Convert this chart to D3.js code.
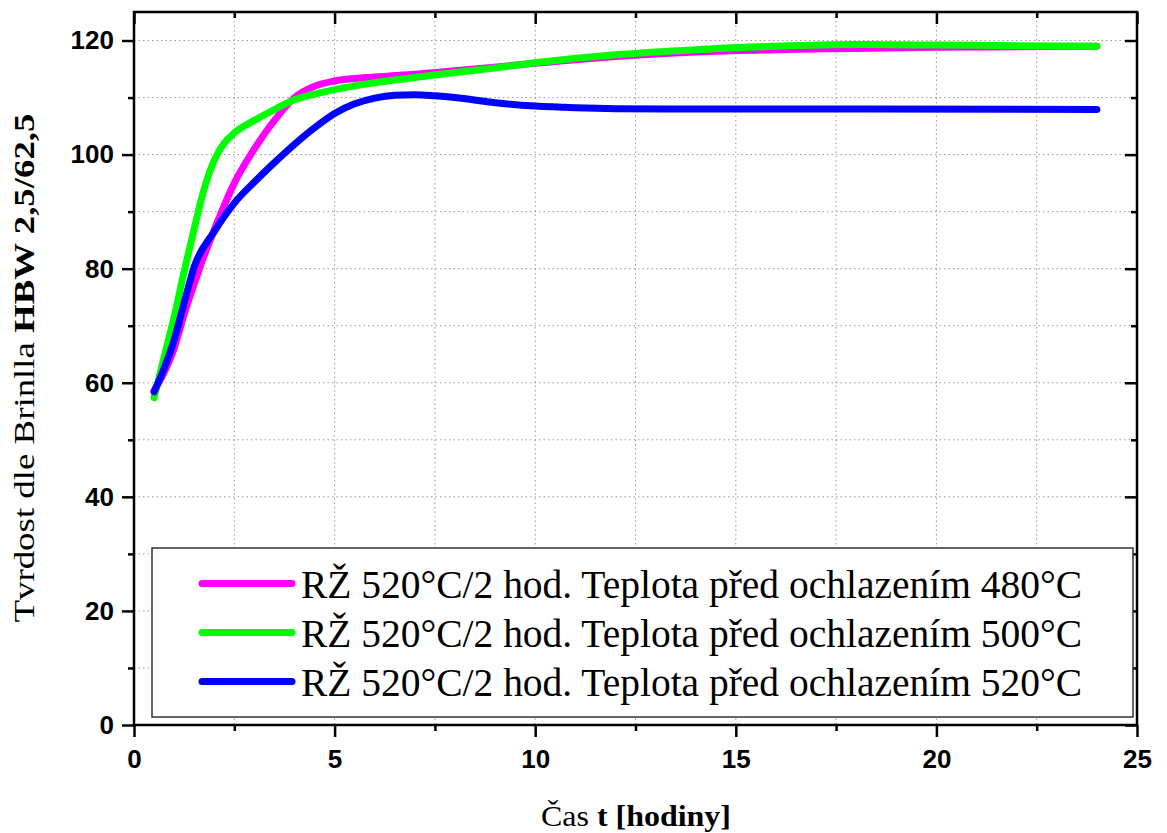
<!DOCTYPE html>
<html>
<head>
<meta charset="utf-8">
<script src="https://d3js.org/d3.v7.min.js"></script>
<style>
  body { margin: 0; background: #fff; }
  .tick text { font-family: "Liberation Sans", Arial, sans-serif; font-weight: bold; font-size: 26px; fill: #000; }
  .grid line { stroke: #9a9a9a; stroke-width: 1; stroke-dasharray: 1.5 3; }
</style>
</head>
<body>
<svg id="chart" width="1167" height="833"></svg>
<script>

// Data
const hours480 = [0.5, 0.75, 1, 1.25, 1.5, 1.75, 2, 2.5, 3, 3.5, 4, 4.5, 5, 6, 7, 8, 10, 12, 14, 16, 18, 20, 22, 24];
const hb480    = [58.6, 61.8, 66, 72, 77.3, 82.3, 86.8, 95, 101, 106, 110, 112, 112.9, 113.6, 114.1, 114.7, 116.0, 117.2, 118.0, 118.4, 118.6, 118.8, 118.9, 119.0];

const hours500 = [0.5, 0.75, 1, 1.25, 1.5, 1.75, 2, 2.25, 2.5, 3, 3.5, 4, 4.5, 5, 6, 7, 8, 9, 10, 12, 14, 16, 18, 20, 22, 24];
const hb500    = [57.4, 64.5, 71.5, 79.5, 87, 94, 99.0, 102.0, 103.8, 106.0, 107.9, 109.6, 110.6, 111.4, 112.6, 113.5, 114.4, 115.2, 116.1, 117.5, 118.4, 119.0, 119.3, 119.2, 119.1, 119.0];

const hours520 = [0.5, 0.75, 1, 1.25, 1.5, 2, 2.5, 3, 3.5, 4, 4.5, 5, 5.5, 6, 6.5, 7, 7.5, 8, 9, 10, 11, 12, 14, 18, 24];
const hb520    = [58.4, 62.5, 67.5, 74, 80.3, 86.5, 91.5, 95.2, 98.6, 101.8, 104.7, 107.2, 108.9, 109.9, 110.4, 110.5, 110.3, 110.0, 109.1, 108.5, 108.2, 108.05, 108.0, 108.0, 107.9];

const seriesNames = [
  "RŽ 520°C/2 hod. Teplota před ochlazením 480°C",
  "RŽ 520°C/2 hod. Teplota před ochlazením 500°C",
  "RŽ 520°C/2 hod. Teplota před ochlazením 520°C"
];
const seriesColors = ["#ff00ff", "#00ff00", "#0000ff"];

const xTicks = [0, 5, 10, 15, 20, 25];
const yTicks = [0, 20, 40, 60, 80, 100, 120];

// Layout
const svg = d3.select("#chart");
const pLeft = 134, pRight = 1137, pTop = 12, pBottom = 725;

const x = d3.scaleLinear().domain([0, 25]).range([pLeft, pRight]);
const y = d3.scaleLinear().domain([0, 125]).range([pBottom, pTop]);

// dotted grid at major and minor positions
const xGridVals = d3.range(2.5, 25, 2.5);
const yGridVals = d3.range(10, 125, 10);
const grid = svg.append("g").attr("class", "grid");
grid.selectAll("line.gx").data(xGridVals).join("line")
    .attr("class", "gx")
    .attr("x1", d => x(d)).attr("x2", d => x(d))
    .attr("y1", pTop).attr("y2", pBottom);
grid.selectAll("line.gy").data(yGridVals).join("line")
    .attr("class", "gy")
    .attr("x1", pLeft).attr("x2", pRight)
    .attr("y1", d => y(d)).attr("y2", d => y(d));

// minor ticks helper
function minorAxis(axisFn, scale, vals, size) {
  return axisFn(scale).tickValues(vals).tickSize(size).tickFormat("");
}

const xMinor = d3.range(2.5, 25, 5);
const yMinor = d3.range(10, 125, 20);

// bottom axis
svg.append("g").attr("class", "axis").attr("transform", `translate(0,${pBottom})`)
  .call(d3.axisBottom(x).tickValues(xTicks).tickSize(12).tickPadding(13).tickFormat(d3.format("d")));
svg.append("g").attr("class", "axis").attr("transform", `translate(0,${pBottom})`)
  .call(minorAxis(d3.axisBottom, x, xMinor, 6));

// top axis (ticks pointing down)
svg.append("g").attr("class", "axis").attr("transform", `translate(0,${pTop})`)
  .call(d3.axisBottom(x).tickValues(xTicks).tickSize(12).tickFormat(""));
svg.append("g").attr("class", "axis").attr("transform", `translate(0,${pTop})`)
  .call(minorAxis(d3.axisBottom, x, xMinor, 6));

// left axis
svg.append("g").attr("class", "axis").attr("transform", `translate(${pLeft},0)`)
  .call(d3.axisLeft(y).tickValues(yTicks).tickSize(12).tickPadding(8).tickFormat(d3.format("d")));
svg.append("g").attr("class", "axis").attr("transform", `translate(${pLeft},0)`)
  .call(minorAxis(d3.axisLeft, y, yMinor, 6));

// right axis (ticks pointing left)
svg.append("g").attr("class", "axis").attr("transform", `translate(${pRight},0)`)
  .call(d3.axisLeft(y).tickValues(yTicks).tickSize(12).tickFormat(""));
svg.append("g").attr("class", "axis").attr("transform", `translate(${pRight},0)`)
  .call(minorAxis(d3.axisLeft, y, yMinor, 6));

svg.selectAll(".axis .domain").remove();
svg.selectAll(".axis .tick line").attr("stroke", "#000").attr("stroke-width", 2.5);

// frame
svg.append("rect")
  .attr("x", pLeft).attr("y", pTop)
  .attr("width", pRight - pLeft).attr("height", pBottom - pTop)
  .attr("fill", "none").attr("stroke", "#000").attr("stroke-width", 2.5);

// curves
const line = d3.line()
  .x(d => x(d[0])).y(d => y(d[1]))
  .curve(d3.curveMonotoneX);

const allSeries = [
  d3.zip(hours480, hb480),
  d3.zip(hours500, hb500),
  d3.zip(hours520, hb520)
];

svg.append("g").selectAll("path").data(allSeries).join("path")
  .attr("d", line)
  .attr("fill", "none")
  .attr("stroke", (d, i) => seriesColors[i])
  .attr("stroke-width", 7)
  .attr("stroke-linecap", "round")
  .attr("stroke-linejoin", "round");

// legend
const legend = svg.append("g");
legend.append("rect")
  .attr("x", 152).attr("y", 548)
  .attr("width", 981).attr("height", 169)
  .attr("fill", "#fff").attr("stroke", "#333").attr("stroke-width", 1.5);

const legendRows = legend.selectAll("g.row").data(seriesNames).join("g")
  .attr("class", "row")
  .attr("transform", (d, i) => `translate(0,${583.5 + i * 49})`);
legendRows.append("line")
  .attr("x1", 202).attr("x2", 292)
  .attr("stroke", (d, i) => seriesColors[i])
  .attr("stroke-width", 7)
  .attr("stroke-linecap", "round");
legendRows.append("text")
  .attr("x", 301).attr("y", 14)
  .attr("font-family", "'Liberation Serif', 'Times New Roman', serif")
  .attr("font-size", 39)
  .attr("textLength", 781)
  .attr("lengthAdjust", "spacingAndGlyphs")
  .attr("fill", "#000")
  .text(d => d);

// axis titles
const xt = svg.append("text")
  .attr("x", 636).attr("y", 826)
  .attr("text-anchor", "middle")
  .attr("font-family", "'Liberation Serif', 'Times New Roman', serif")
  .attr("font-size", 30)
  .attr("textLength", 190)
  .attr("lengthAdjust", "spacingAndGlyphs");
xt.append("tspan").text("Čas ");
xt.append("tspan").attr("font-weight", "bold").text("t [hodiny]");

const yt = svg.append("text")
  .attr("transform", "translate(34,368) rotate(-90)")
  .attr("text-anchor", "middle")
  .attr("font-family", "'Liberation Serif', 'Times New Roman', serif")
  .attr("font-size", 30)
  .attr("textLength", 509)
  .attr("lengthAdjust", "spacingAndGlyphs");
yt.append("tspan").text("Tvrdost dle Brinlla ");
yt.append("tspan").attr("font-weight", "bold").text("HBW 2,5/62,5");

</script>
</body>
</html>
